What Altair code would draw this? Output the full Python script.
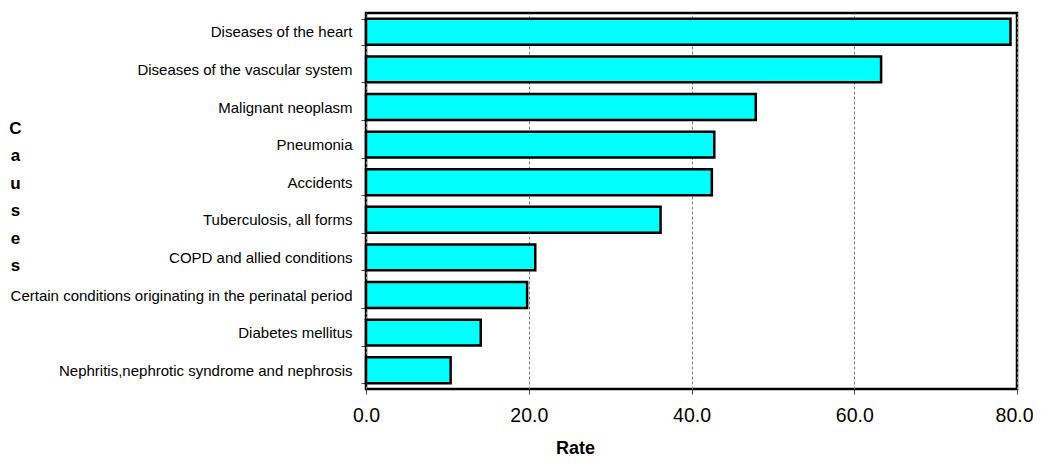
import altair as alt
import pandas as pd

causes = [
    "Diseases of the heart",
    "Diseases of the vascular system",
    "Malignant neoplasm",
    "Pneumonia",
    "Accidents",
    "Tuberculosis, all forms",
    "COPD and allied conditions",
    "Certain conditions originating in the perinatal period",
    "Diabetes mellitus",
    "Nephritis,nephrotic syndrome and nephrosis",
]
rates = [79.2, 63.3, 47.9, 42.8, 42.5, 36.2, 20.8, 19.8, 14.1, 10.4]
x_ticks = [0, 20, 40, 60, 80]

df = pd.DataFrame({"Cause": causes, "Rate": rates})

FONT = "Liberation Sans"

chart = alt.Chart(df).mark_bar(
    fill="#00FFFF", stroke="black", strokeWidth=2.5
).encode(
    x=alt.X(
        "Rate:Q",
        scale=alt.Scale(domain=[0, 80], nice=False, zero=True),
        axis=alt.Axis(
            values=x_ticks,
            format=".1f",
            title="Rate",
            titleFont=FONT,
            titleFontSize=18,
            titleFontWeight="bold",
            titleColor="black",
            titleAlign="center",
            titleBaseline="middle",
            titleX=209,
            titleY=59,
            labelFont=FONT,
            labelFontSize=19.5,
            labelColor="black",
            labelPadding=12,
            labelFlush=False,
            labelOffset={"condition": {"test": "datum.value == 80", "value": -3}, "value": 0},
            tickSize=5,
            tickColor="#444",
            domain=False,
            grid=True,
            gridColor="#808080",
            gridDash=[3, 2],
            gridWidth=1,
        ),
    ),
    y=alt.Y(
        "Cause:N",
        sort=causes,
        scale=alt.Scale(paddingInner=0.31, paddingOuter=0.155),
        axis=alt.Axis(
            title=["C", "a", "u", "s", "e", "s"],
            titleFont=FONT,
            titleFontSize=17,
            titleFontWeight="bold",
            titleColor="black",
            titleAngle=0,
            titleAlign="center",
            titleBaseline="top",
            titleLineHeight=27.5,
            titleX=-351,
            titleY=107,
            labelFont=FONT,
            labelFontSize=15,
            labelColor="black",
            labelLimit=500,
            labelPadding=9,
            tickSize=5,
            tickColor="#444",
            tickBand="extent",
            domain=False,
            grid=False,
        ),
    ),
).properties(
    width=651,
    height=376,
    autosize=alt.AutoSizeParams(type="none"),
    padding={"left": 358, "top": 5, "right": 16, "bottom": 71},
).configure(
    background="white"
).configure_view(
    stroke="black", strokeWidth=2.5
)

chart.save("out.html", embed_options={"renderer": "svg", "actions": False})
